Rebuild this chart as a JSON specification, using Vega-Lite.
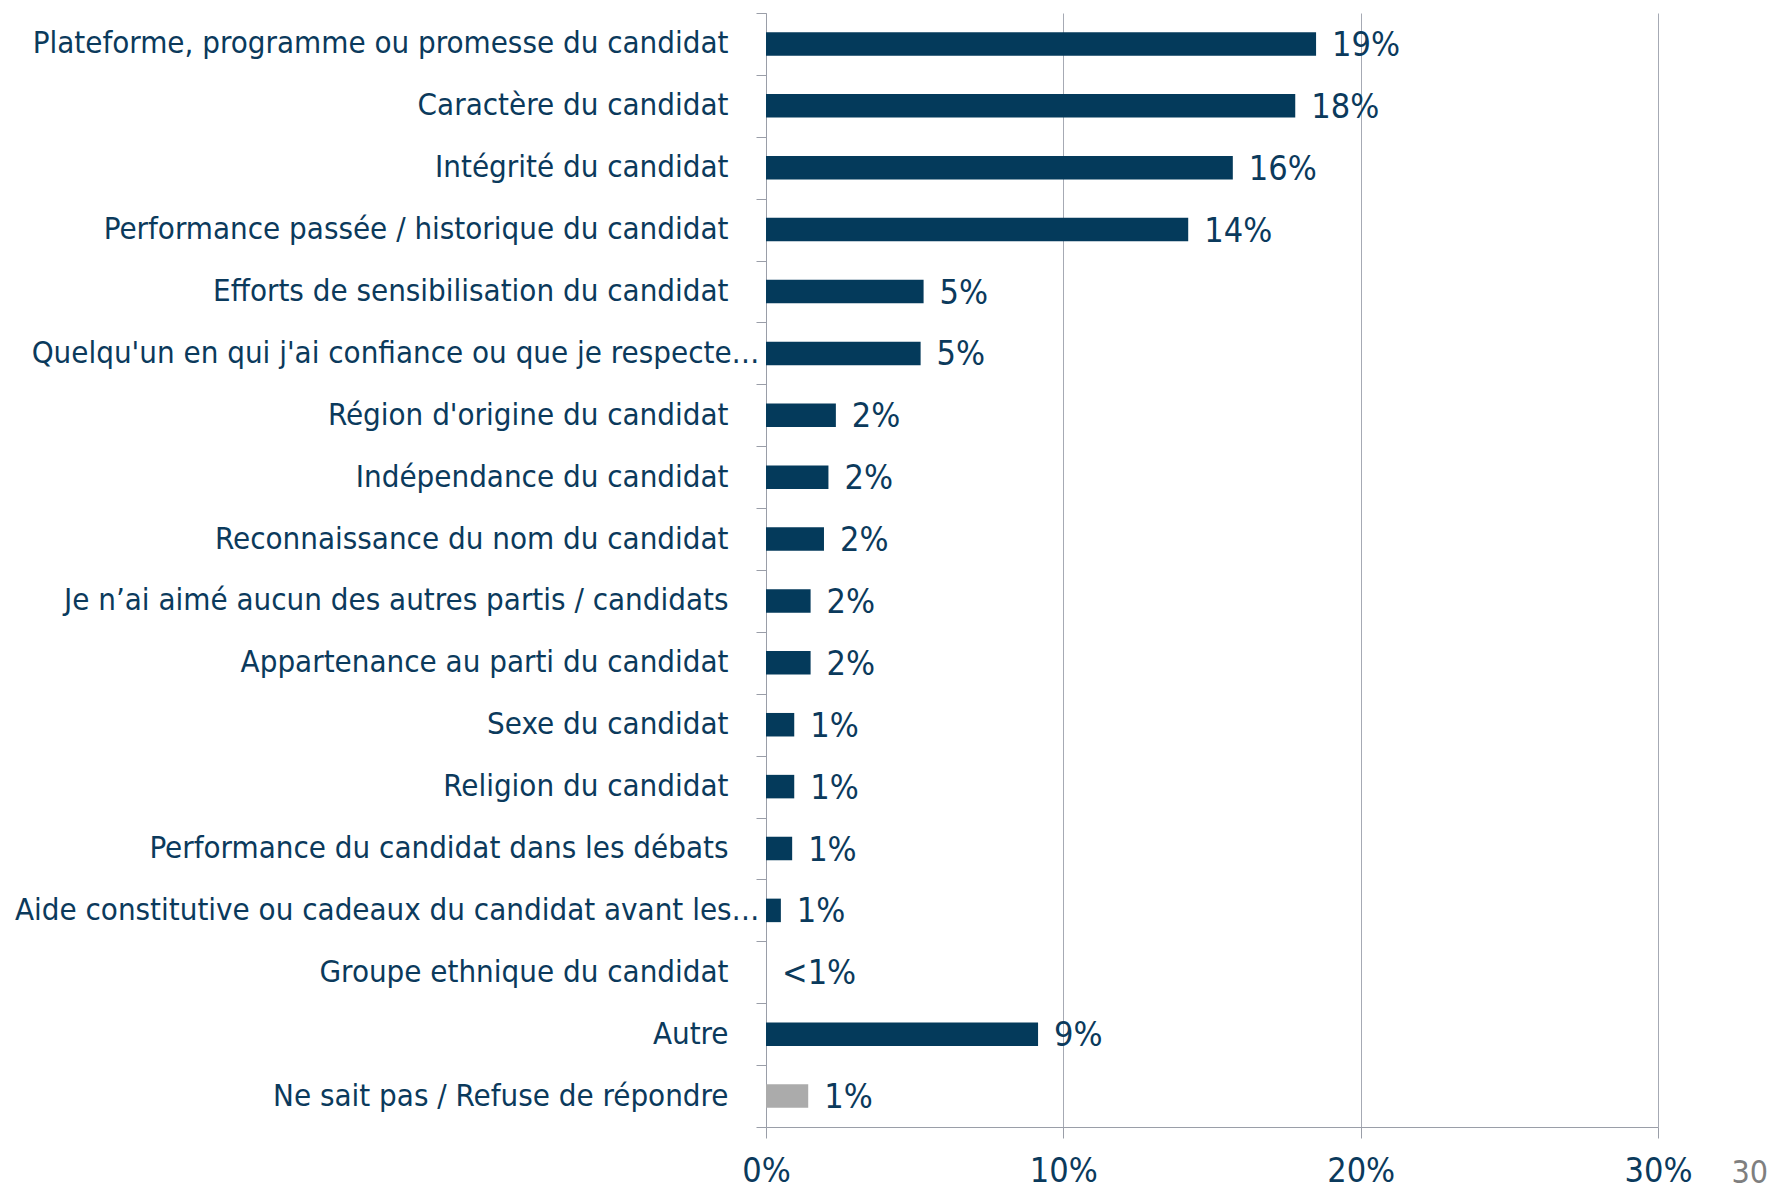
{
  "$schema": "https://vega.github.io/schema/vega-lite/v6.json",
  "autosize": "none",
  "width": 892,
  "height": 1114,
  "padding": {"left": 766, "top": 13, "right": 113, "bottom": 64},
  "background": "white",
  "title": {"text": "30", "orient": "bottom", "anchor": "end", "frame": "group", "align": "right", "dx": 110, "offset": -30, "font": "Liberation Sans Narrow, DejaVu Sans Condensed", "fontSize": 32, "fontWeight": "normal", "color": "#7f7f7f"},
  "data": {"values": [
    {"cat": "Plateforme, programme ou promesse du candidat", "pct": 18.5, "label": "19%", "grp": "a"},
    {"cat": "Caractère du candidat", "pct": 17.8, "label": "18%", "grp": "a"},
    {"cat": "Intégrité du candidat", "pct": 15.7, "label": "16%", "grp": "a"},
    {"cat": "Performance passée  / historique du candidat", "pct": 14.2, "label": "14%", "grp": "a"},
    {"cat": "Efforts de sensibilisation du candidat", "pct": 5.3, "label": "5%", "grp": "a"},
    {"cat": "Quelqu'un en qui j'ai confiance ou que je respecte…", "pct": 5.2, "label": "5%", "grp": "a"},
    {"cat": "Région d'origine du candidat", "pct": 2.35, "label": "2%", "grp": "a"},
    {"cat": "Indépendance du candidat", "pct": 2.1, "label": "2%", "grp": "a"},
    {"cat": "Reconnaissance du nom du candidat", "pct": 1.95, "label": "2%", "grp": "a"},
    {"cat": "Je n’ai aimé aucun des autres partis / candidats", "pct": 1.5, "label": "2%", "grp": "a"},
    {"cat": "Appartenance au parti du candidat", "pct": 1.5, "label": "2%", "grp": "a"},
    {"cat": "Sexe du candidat", "pct": 0.95, "label": "1%", "grp": "a"},
    {"cat": "Religion du candidat", "pct": 0.95, "label": "1%", "grp": "a"},
    {"cat": "Performance du candidat dans les débats", "pct": 0.88, "label": "1%", "grp": "a"},
    {"cat": "Aide constitutive ou cadeaux du candidat avant les…", "pct": 0.5, "label": "1%", "grp": "a"},
    {"cat": "Groupe ethnique du candidat", "pct": 0, "label": "<1%", "grp": "a"},
    {"cat": "Autre", "pct": 9.15, "label": "9%", "grp": "a"},
    {"cat": "Ne sait pas / Refuse de répondre", "pct": 1.42, "label": "1%", "grp": "b"}
  ]},
  "encoding": {
    "y": {"field": "cat", "type": "nominal", "sort": null,
      "scale": {"paddingInner": 0, "paddingOuter": 0},
      "axis": {"title": null, "tickBand": "extent", "tickSize": 10, "tickColor": "#9a9ea8", "domainColor": "#9a9ea8",
        "labelFont": "DejaVu Sans Condensed", "labelFontSize": 31, "labelColor": "#0b3a5c",
        "labelPadding": {"condition": {"test": "indexof(datum.label, '…') >= 0", "value": -3}, "value": 28},
        "labelLimit": 800}},
    "x": {"field": "pct", "type": "quantitative",
      "scale": {"domain": [0, 30], "nice": false},
      "axis": {"title": null, "values": [0, 10, 20, 30], "labelExpr": "datum.value + '%'", "grid": true, "gridColor": "#a6aab4",
        "labelFlush": false, "tickSize": 11, "tickColor": "#9a9ea8", "domainColor": "#9a9ea8", "labelPadding": 16,
        "labelFont": "Liberation Sans Narrow, DejaVu Sans Condensed", "labelFontSize": 34, "labelColor": "#0b3a5c"}}
  },
  "layer": [
    {"mark": {"type": "bar", "height": {"band": 0.38}},
     "encoding": {"color": {"field": "grp", "type": "nominal", "scale": {"domain": ["a", "b"], "range": ["#043a5b", "#ababab"]}, "legend": null}}},
    {"mark": {"type": "text", "align": "left", "baseline": "middle", "dx": 16, "dy": 2, "font": "Liberation Sans Narrow, DejaVu Sans Condensed", "fontSize": 34, "color": "#0b3a5c"},
     "encoding": {"text": {"field": "label"}}}
  ],
  "config": {"view": {"stroke": null}}
}
